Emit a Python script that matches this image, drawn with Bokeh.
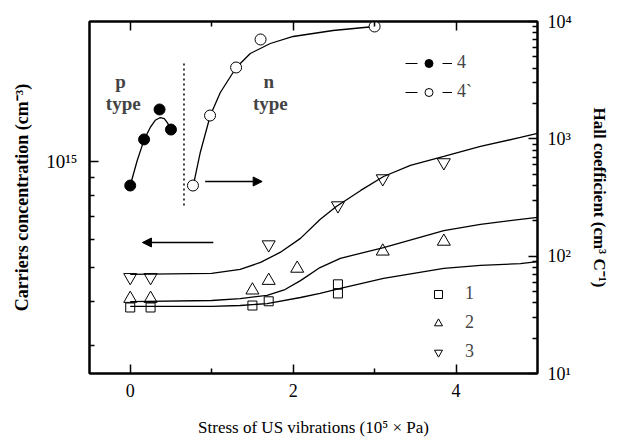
from bokeh.plotting import figure
from bokeh.models import (Range1d, LogScale, LogAxis, LinearAxis, FixedTicker, Arrow,
                          NormalHead, Label, Legend, LegendItem, CustomJSTickFormatter)
from bokeh.embed import file_html
from bokeh.resources import INLINE

# ---------------- data ----------------
# sample 4 (p type) -> left axis, carriers concentration (cm^-3)
stress_4 = [0.0, 0.17, 0.36, 0.50]
conc_4 = [8.55e14, 1.156e15, 1.406e15, 1.233e15]
fit4_x = [0.0, 0.086, 0.172, 0.246, 0.307, 0.369, 0.418, 0.455, 0.504]
fit4_y = [8.55e14, 1.007e15, 1.156e15, 1.25e15, 1.31e15, 1.334e15, 1.324e15, 1.29e15, 1.233e15]

# sample 4` (n type) -> right axis, Hall coefficient (cm^3 C^-1)
stress_4b = [0.77, 0.98, 1.30, 1.60, 3.0]
hall_4b = [400, 1580, 4055, 7025, 9070]
fit4b_x = [0.774, 0.86, 0.983, 1.106, 1.302, 1.474, 1.72, 2.0, 2.49, 3.0]
fit4b_y = [400, 765, 1581, 2483, 4055, 5338, 6494, 7452, 8380, 9067]

# samples 1, 2, 3 -> left axis
stress_1 = [0.0, 0.25, 1.5, 1.7, 2.55, 2.55]
conc_1 = [3.85e14, 3.85e14, 3.90e14, 4.01e14, 4.48e14, 4.22e14]
stress_2 = [0.0, 0.25, 1.5, 1.7, 2.05, 3.1, 3.85]
conc_2 = [4.08e14, 4.08e14, 4.31e14, 4.59e14, 4.97e14, 5.56e14, 5.93e14]
stress_3 = [0.0, 0.25, 1.7, 2.55, 3.1, 3.85]
conc_3 = [4.69e14, 4.69e14, 5.81e14, 7.50e14, 8.95e14, 9.94e14]

fit1_x = [0.0, 1.0, 1.35, 1.68, 2.09, 2.33, 2.58, 3.11, 3.85, 4.3, 4.79, 5.0]
fit1_y = [3.88e14, 3.88e14, 3.90e14, 3.95e14, 4.11e14, 4.22e14, 4.36e14, 4.66e14, 4.97e14, 5.07e14, 5.13e14, 5.20e14]
fit2_x = [0.0, 1.0, 1.35, 1.68, 1.9, 2.09, 2.33, 2.58, 3.11, 3.85, 4.3, 4.79, 5.0]
fit2_y = [4.00e14, 4.03e14, 4.08e14, 4.17e14, 4.33e14, 4.59e14, 5.00e14, 5.31e14, 5.70e14, 6.37e14, 6.63e14, 6.85e14, 6.94e14]
fit3_x = [0.0, 1.0, 1.35, 1.6, 1.84, 2.09, 2.33, 2.53, 2.83, 3.11, 3.44, 3.85, 4.3, 4.79, 5.0]
fit3_y = [4.78e14, 4.81e14, 4.94e14, 5.17e14, 5.52e14, 6.05e14, 6.85e14, 7.45e14, 8.28e14,
          9.07e14, 9.75e14, 1.034e15, 1.104e15, 1.171e15, 1.202e15]

# axis ticks
x_major = [0, 2, 4]
x_minor = [1, 3]
left_major = [1e15]
left_minor = [3e14, 4e14, 5e14, 6e14, 7e14, 8e14, 9e14]
right_major = [10, 100, 1000, 10000]
right_minor = [m * d for d in (10, 100, 1000) for m in range(2, 10)]

# annotations
divider_x = 0.66
divider_hall = [270, 4656]
arrow_left_x = (1.02, 0.15)
arrow_left_conc = 5.89e14
arrow_right_x = (0.92, 1.62)
arrow_right_hall = 433

FONT = "Liberation Serif"
NAN = float("nan")

p = figure(width=611, height=440, x_range=Range1d(-0.5, 5.0),
           y_range=Range1d(2.5e14, 2.5e15), y_axis_type="log",
           output_backend="svg", toolbar_location=None,
           min_border_left=89, min_border_right=74, min_border_top=21, min_border_bottom=67)
p.extra_y_ranges = {"hall": Range1d(10, 1e4)}
p.extra_y_scales = {"hall": LogScale()}
p.xgrid.grid_line_color = None
p.ygrid.grid_line_color = None
p.outline_line_color = "black"
p.outline_line_width = 2
p.background_fill_color = "white"
p.border_fill_color = "white"

sup_fmt = CustomJSTickFormatter(code="""
const sup = {'0':'\u2070','1':'\u00b9','2':'\u00b2','3':'\u00b3','4':'\u2074','5':'\u2075',
             '6':'\u2076','7':'\u2077','8':'\u2078','9':'\u2079','-':'\u207b'};
const e = Math.round(Math.log10(tick));
return '10' + String(e).split('').map(c => sup[c]).join('');
""")

def style_axis(ax, label_size="18px"):
    ax.axis_line_width = 2
    ax.axis_line_color = "black"
    ax.major_tick_in = 9
    ax.major_tick_out = 0
    ax.minor_tick_in = 5
    ax.minor_tick_out = 0
    ax.major_tick_line_width = 1.5
    ax.minor_tick_line_width = 1.5
    ax.major_label_text_font = FONT
    ax.major_label_text_font_size = label_size
    ax.major_label_text_color = "black"
    ax.axis_label_text_font = FONT
    ax.axis_label_text_color = "black"

# bottom axis
xa = p.xaxis[0]
xa.ticker = FixedTicker(ticks=x_major, minor_ticks=x_minor)
style_axis(xa)
xa.major_label_standoff = 10
xa.axis_label = "Stress of US vibrations (10\u2075 \u00d7 Pa)"
xa.axis_label_text_font_size = "17px"
xa.axis_label_text_font_style = "normal"
xa.axis_label_standoff = 18

# top axis (ticks only, no labels)
ta = LinearAxis(ticker=FixedTicker(ticks=x_major, minor_ticks=x_minor),
                formatter=CustomJSTickFormatter(code="return '';"))
style_axis(ta)
ta.major_label_standoff = 0
p.add_layout(ta, "above")

# left axis
ya = p.yaxis[0]
ya.ticker = FixedTicker(ticks=left_major, minor_ticks=left_minor)
ya.formatter = sup_fmt
style_axis(ya)
ya.major_label_text_font_size = "19px"
ya.major_label_standoff = 12
ya.axis_label = "Carriers concentration (cm\u207b\u00b3)"
ya.axis_label_text_font_size = "18px"
ya.axis_label_text_font_style = "bold"
ya.axis_label_standoff = 11

# right axis
ra = LogAxis(y_range_name="hall", ticker=FixedTicker(ticks=right_major, minor_ticks=right_minor),
             formatter=sup_fmt)
style_axis(ra)
ra.major_label_standoff = 10
ra.axis_label = "Hall coefficient (cm\u00b3 C\u207b\u00b9)"
ra.axis_label_text_font_size = "17px"
ra.axis_label_text_font_style = "bold"
ra.axis_label_standoff = 15
p.add_layout(ra, "right")

LW = 1.3
# fitted curves
p.line(fit1_x, fit1_y, line_color="black", line_width=LW)
p.line(fit2_x, fit2_y, line_color="black", line_width=LW)
p.line(fit3_x, fit3_y, line_color="black", line_width=LW)
p.line(fit4_x, fit4_y, line_color="black", line_width=LW)
p.line(fit4b_x, fit4b_y, line_color="black", line_width=LW, y_range_name="hall")

# markers
r1 = p.scatter(stress_1, conc_1, marker="square", size=9, fill_color=None, line_color="black", line_width=1)
r2 = p.scatter(stress_2, conc_2, marker="triangle", size=13, fill_color=None, line_color="black", line_width=1)
r3 = p.scatter(stress_3, conc_3, marker="inverted_triangle", size=13, fill_color=None, line_color="black", line_width=1)
p.scatter(stress_4, conc_4, marker="circle", size=11, fill_color="black", line_color="black")
p.scatter(stress_4b, hall_4b, marker="circle", size=11, fill_color="white", line_color="black",
          line_width=1, y_range_name="hall")

# divider and arrows
p.line([divider_x, divider_x], divider_hall, line_color="black", line_width=1.5,
       line_dash="2 3", y_range_name="hall")
p.add_layout(Arrow(end=NormalHead(size=9, fill_color="black", line_color="black"),
                   x_start=arrow_left_x[0], y_start=arrow_left_conc,
                   x_end=arrow_left_x[1], y_end=arrow_left_conc, line_width=1.3))
p.add_layout(Arrow(end=NormalHead(size=9, fill_color="black", line_color="black"),
                   x_start=arrow_right_x[0], y_start=arrow_right_hall,
                   x_end=arrow_right_x[1], y_end=arrow_right_hall, line_width=1.3,
                   y_range_name="hall"))

# text labels
for txt, x, y in [("p", -0.12, 3100), ("type", -0.086, 2000), ("n", 1.70, 3100), ("type", 1.72, 2000)]:
    p.add_layout(Label(x=x, y=y, y_range_name="hall", text=txt, text_font=FONT,
                       text_font_size="19px", text_font_style="bold",
                       text_align="center", text_baseline="middle"))

# legend for 4 / 4` (legend-only renderers, nothing drawn in the plot area)
lg_line = p.line([NAN], [NAN], line_color="black", line_width=1.2, line_dash="12 25")
lg_dot = p.scatter([NAN], [NAN], marker="circle", size=10, fill_color="black", line_color="black")
lg_open = p.scatter([NAN], [NAN], marker="circle", size=8, fill_color="white", line_color="black")
leg1 = Legend(items=[LegendItem(label="4", renderers=[lg_line, lg_dot]),
                     LegendItem(label="4`", renderers=[lg_line, lg_open])],
              location=(316, 271), orientation="vertical",
              glyph_width=47, glyph_height=20, label_height=20, spacing=8,
              label_standoff=5, padding=0, margin=0,
              border_line_color=None, background_fill_alpha=0,
              label_text_font=FONT, label_text_font_size="18px")
p.add_layout(leg1)

leg2 = Legend(items=[LegendItem(label="1", renderers=[r1]),
                     LegendItem(label="2", renderers=[r2]),
                     LegendItem(label="3", renderers=[r3])],
              location=(339, 11), orientation="vertical",
              glyph_width=20, glyph_height=20, label_height=20, spacing=8,
              label_standoff=17, padding=0, margin=0,
              border_line_color=None, background_fill_alpha=0,
              label_text_font=FONT, label_text_font_size="18px")
p.add_layout(leg2)

open("out.html", "w").write(file_html(p, INLINE))
